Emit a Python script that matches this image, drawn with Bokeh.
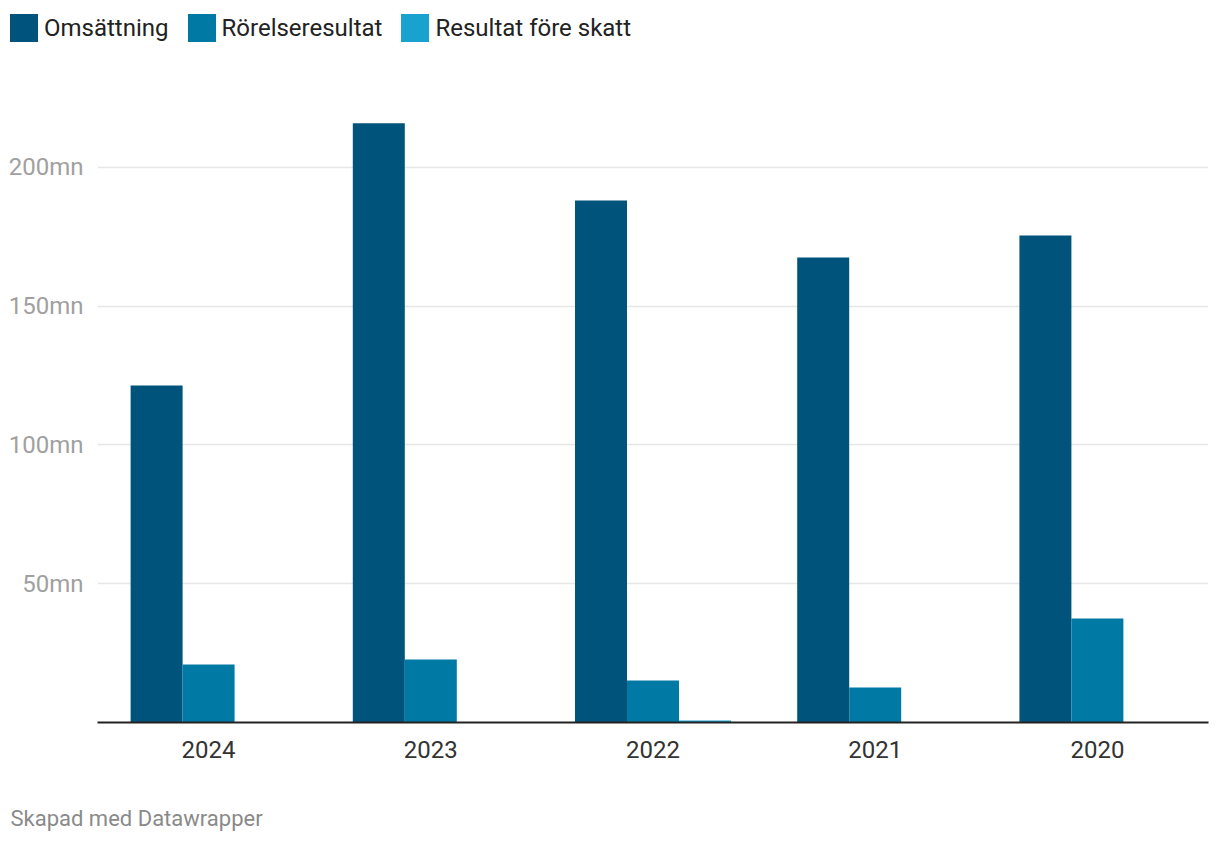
from bokeh.plotting import figure
from bokeh.layouts import column
from bokeh.models import Range1d, FixedTicker, Title, ColumnDataSource, Div
from bokeh.transform import dodge
from bokeh.embed import file_html
from bokeh.resources import INLINE

years = ["2024", "2023", "2022", "2021", "2020"]
omsattning = [121.4, 215.9, 188.1, 167.6, 175.5]
rorelseresultat = [20.9, 22.7, 15.1, 12.6, 37.5]
resultat_fore_skatt = [0.0, 0.0, 0.7, 0.0, 0.0]
series_names = ["Omsättning", "Rörelseresultat", "Resultat före skatt"]
colors = ["#00537a", "#0079a5", "#19a1cf"]
y_ticks = [50, 100, 150, 200]
y_tick_labels = {50: "50mn", 100: "100mn", 150: "150mn", 200: "200mn"}
footer = "Skapad med Datawrapper"

src = ColumnDataSource(dict(x=years, a=omsattning, b=rorelseresultat, c=resultat_fore_skatt))

FONT = "Roboto"
W = 1210

# ---- legend strip (HTML) ----
items_html = "".join(
    f'<div style="display:flex;align-items:center;margin-right:19px;">'
    f'<span style="display:inline-block;width:28px;height:28px;background:{c};margin-right:6px;"></span>'
    f'<span style="line-height:28px;">{n}</span></div>'
    for n, c in zip(series_names, colors))
legend_div = Div(
    text=f'<div style="display:flex;align-items:center;padding:14px 0 0 10px;'
         f'font-family:Roboto;font-size:24px;color:#222222;white-space:nowrap;">{items_html}</div>',
    width=W, height=66, margin=0)

# ---- main chart ----
p = figure(x_range=years, y_range=Range1d(0, 231.35),
           frame_width=1111, frame_height=642,
           min_border_left=97, min_border_right=2, min_border_top=14, min_border_bottom=112,
           output_backend="svg", toolbar_location=None, outline_line_color=None)
p.background_fill_color = "white"
p.border_fill_color = "white"

bw = 0.234
p.vbar(x=dodge("x", -bw, range=p.x_range), top="a", width=bw, source=src, color=colors[0], line_color=None,
       legend_label=series_names[0])
p.vbar(x=dodge("x", 0, range=p.x_range), top="b", width=bw, source=src, color=colors[1], line_color=None,
       legend_label=series_names[1])
p.vbar(x=dodge("x", bw, range=p.x_range), top="c", width=bw, source=src, color=colors[2], line_color=None,
       legend_label=series_names[2])
p.legend.visible = False

p.yaxis.ticker = FixedTicker(ticks=y_ticks)
p.yaxis.major_label_overrides = y_tick_labels
p.yaxis.axis_line_color = None
p.yaxis.major_tick_line_color = None
p.yaxis.minor_tick_line_color = None
p.yaxis.major_label_text_color = "#a0a0a0"
p.yaxis.major_label_text_font = FONT
p.yaxis.major_label_text_font_size = "24px"
p.yaxis.major_label_standoff = 8

p.xaxis.axis_line_color = "#222222"
p.xaxis.axis_line_width = 2
p.xaxis.major_tick_line_color = None
p.xaxis.minor_tick_line_color = None
p.xaxis.major_label_text_color = "#333333"
p.xaxis.major_label_text_font = FONT
p.xaxis.major_label_text_font_size = "24px"
p.xaxis.major_label_standoff = 12

p.xgrid.grid_line_color = None
p.ygrid.grid_line_color = "#e6e6e6"
p.ygrid.grid_line_width = 1.5

p.add_layout(Title(text=footer, align="left", offset=-87, standoff=86, text_font=FONT,
                   text_font_size="22px", text_font_style="normal", text_color="#8a8a8a"), "below")

open("out.html", "w").write(file_html(column(legend_div, p, spacing=0), INLINE))
